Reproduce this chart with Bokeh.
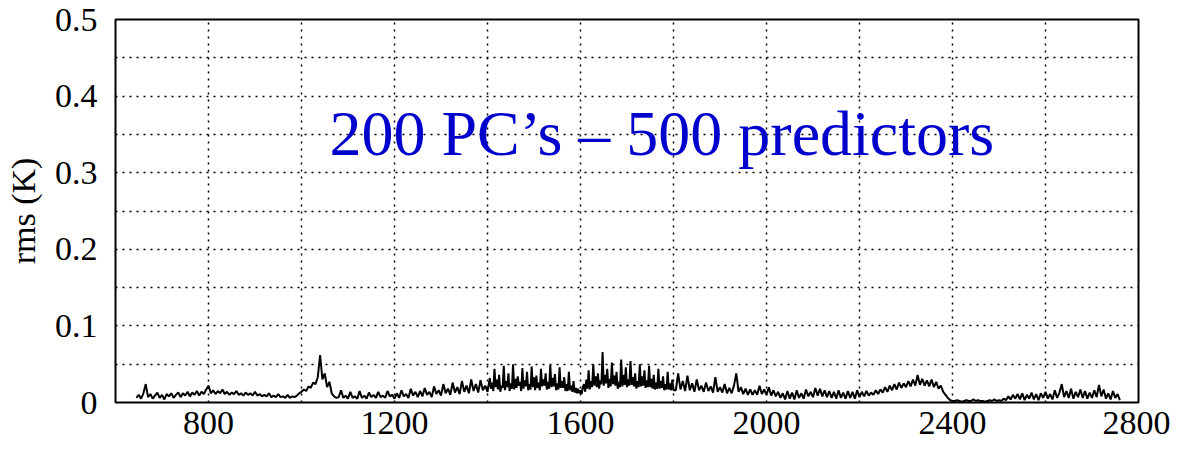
from bokeh.plotting import figure
from bokeh.models import Range1d, FixedTicker, CustomJSTickFormatter
from bokeh.core.properties import value
from bokeh.embed import file_html
from bokeh.resources import INLINE

# ---- data (rms in mK), grouped by start wavenumber (cm-1) and step ----
seg_645 = [6, 10, 5, 12, 24, 7, 11, 5, 9, 13, 6, 10, 4, 11, 8, 12, 6, 10, 13, 7, 12, 9, 14, 8, 13,
           10, 15, 9, 14, 11, 17]
seg_800 = [22, 12, 16, 11, 15, 12, 17, 11, 14, 10, 13, 11, 15, 10, 12, 9, 13, 10, 12, 9, 14, 9, 11,
           8, 10, 8, 12, 7, 9, 7, 11, 7, 8, 6, 10, 6, 8, 7, 9, 12]
seg_1000 = [14, 17, 15, 21, 19, 26, 24, 33, 62, 30, 38, 20, 27, 12, 8, 6]
seg_1080 = [7, 16, 6, 9, 5, 14, 6, 8, 5, 15, 6, 9, 5, 13, 7, 10, 6, 14, 7, 9, 6, 15, 8, 10, 5, 12,
            6, 16, 8, 11, 6, 18, 9, 14, 7]
seg_1255 = [15, 8, 19, 10, 14, 7, 21, 11, 16, 9, 24, 12, 18, 10, 26, 13, 20, 11, 28, 14, 22, 12, 30,
            15, 24, 13, 29, 16, 22, 14]
seg_1405 = [32, 18, 26, 15, 44, 20, 30, 17, 36, 14, 22, 19, 48, 16, 28, 20, 38, 15, 25, 18,
            50, 17, 31, 19, 34, 22, 27, 15, 45, 18, 29, 21, 40, 16, 24, 17, 47, 20, 33, 16,
            35, 19, 26, 16, 44, 21, 30, 22, 38, 17, 27, 18, 49, 20, 32, 21, 37, 16, 25, 17,
            46, 19, 28, 19, 33, 15, 24, 15, 40, 16, 22, 14, 28, 13, 19, 12, 18, 12, 16, 11, 20]
seg_1607 = [24, 14, 30, 18, 42, 17, 28, 20, 50, 22, 34, 20, 38, 18, 29, 24, 66, 22, 36, 25,
            44, 19, 31, 21, 52, 24, 35, 22, 40, 18, 27, 20, 56, 21, 36, 23, 46, 20, 30, 22,
            54, 23, 33, 21, 38, 18, 28, 20, 50, 21, 34, 22, 42, 19, 29, 20, 48, 20, 31, 18,
            36, 17, 26, 18, 44, 18, 28, 19, 34, 16, 24, 17, 40, 17, 25, 16, 30, 16]
seg_1805 = [16, 38, 17, 28, 15, 35, 16, 25, 14, 30, 16, 22, 14, 26, 15, 21, 13, 33, 14, 20, 13, 24,
            12, 19, 12, 22, 38, 14, 20, 11, 18, 10, 17, 10, 16, 10, 22, 11, 17, 10]
seg_2005 = [20, 9, 16, 8, 14, 6, 12, 4, 15, 5, 13, 4, 16, 6, 12, 5, 17, 8, 14, 7, 19, 9, 18, 8, 16,
            7, 15, 6, 14, 5, 16, 6, 13, 5, 15, 6, 14, 5, 16, 7]
seg_2205 = [14, 8, 15, 9, 13, 10, 16, 11, 17, 13, 20, 14, 22, 16, 24, 17, 26, 19, 25, 20, 28, 21, 30,
            22, 36, 23, 31, 22, 29, 21, 30, 20, 27, 18, 22, 14, 10, 6, 3, 2]
seg_2405 = [2, 3, 2, 1, 2, 3, 2, 2, 4, 2, 3, 2, 2, 1, 2, 3, 2, 4, 2, 3, 2, 5, 3, 8, 4, 10, 5, 11]
seg_2545 = [4, 12, 3, 10, 5, 13, 4, 11, 3, 12, 6, 14, 5, 11, 4, 16, 6, 13, 24, 7, 15, 6, 18, 5, 14,
            7, 17, 6, 15, 5, 13, 6, 16, 7, 23, 8, 17, 5, 12, 4, 15, 6, 11, 3]

segments = [(645, 5, seg_645), (800, 5, seg_800), (1000, 5, seg_1000), (1080, 5, seg_1080),
            (1255, 5, seg_1255), (1405, 2.5, seg_1405), (1607.5, 2.5, seg_1607),
            (1805, 5, seg_1805), (2005, 5, seg_2005), (2205, 5, seg_2205),
            (2405, 5, seg_2405), (2545, 5, seg_2545)]

x_ticks = [800, 1200, 1600, 2000, 2400, 2800]
y_ticks = [0, 0.1, 0.2, 0.3, 0.4, 0.5]
x_grid = [800, 1000, 1200, 1400, 1600, 1800, 2000, 2200, 2400, 2600]
y_grid = [0.05, 0.1, 0.15, 0.2, 0.25, 0.3, 0.35, 0.4, 0.45]
label_text = "200 PC\u2019s \u2013 500 predictors"

wn, rms = [], []
for start, step, vals in segments:
    for i, v in enumerate(vals):
        wn.append(start + step * i)
        rms.append(v / 1000.0)

FONT = "Liberation Serif"

p = figure(width=1170, height=441, output_backend="svg", toolbar_location=None,
           x_range=Range1d(600, 2800), y_range=Range1d(0, 0.5),
           min_border_left=115, min_border_top=19, min_border_right=32, min_border_bottom=39)
p.background_fill_color = "white"
p.border_fill_color = "white"
p.outline_line_color = "black"
p.outline_line_width = 2
p.outline_line_alpha = 1

for ax in (p.xaxis[0], p.yaxis[0]):
    ax.axis_line_color = None
    ax.major_tick_line_color = None
    ax.minor_tick_line_color = None
    ax.major_label_text_font = FONT
    ax.major_label_text_font_size = "34px"
    ax.major_label_text_color = "black"

p.xaxis.ticker = FixedTicker(ticks=x_ticks)
p.yaxis.ticker = FixedTicker(ticks=y_ticks)
p.yaxis.formatter = CustomJSTickFormatter(code="return tick == 0 ? '0' : tick.toFixed(1);")
p.xaxis.major_label_standoff = 3
p.yaxis.major_label_standoff = 12

p.yaxis.axis_label = "rms (K)"
p.yaxis.axis_label_text_font = FONT
p.yaxis.axis_label_text_font_style = "normal"
p.yaxis.axis_label_text_font_size = "34px"
p.yaxis.axis_label_text_color = "black"
p.yaxis.axis_label_standoff = 10

p.xgrid.ticker = FixedTicker(ticks=x_grid)
p.ygrid.ticker = FixedTicker(ticks=y_grid)
for g in (p.xgrid[0], p.ygrid[0]):
    g.grid_line_color = "black"
    g.grid_line_dash = "2 5"
    g.grid_line_width = 1.5
    g.grid_line_alpha = 1

p.line(wn, rms, line_color="black", line_width=2.0)

p.text(x=[1060], y=[0.351], text=[label_text], text_font=value(FONT),
       text_font_size="64px", text_color="#0000CC", text_baseline="alphabetic",
       text_align="left")

open("out.html", "w").write(file_html(p, INLINE))
